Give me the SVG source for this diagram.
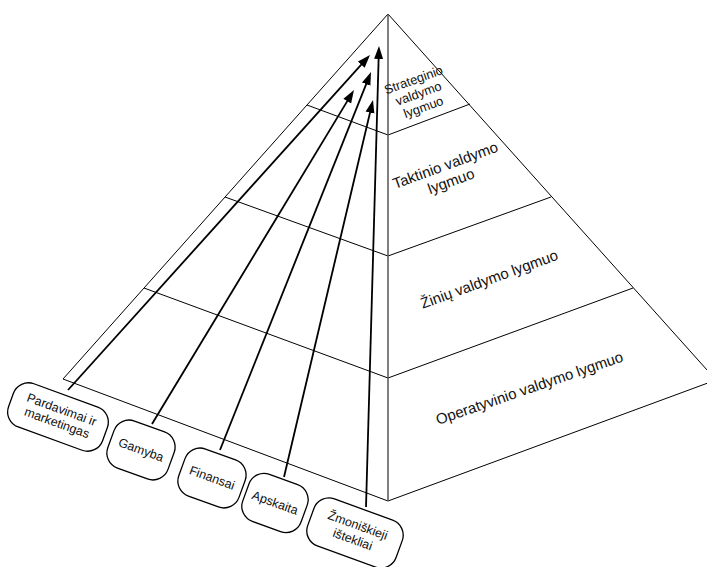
<svg xmlns="http://www.w3.org/2000/svg" width="707" height="567" viewBox="0 0 707 567">
<style>
.edge{fill:none;stroke:#000;stroke-width:1}
.axis{fill:none;stroke:#555;stroke-width:1.5}
.conn{fill:none;stroke:#000;stroke-width:1.8}
.box{fill:#fff;stroke:#000;stroke-width:1.3}
.lbl{font-family:"Liberation Sans",Arial,sans-serif;fill:#111;text-anchor:middle}
.bl{font-size:12.5px}
.pl{font-size:15px}
.sl{font-size:12.8px}
</style>
<defs>
<marker id="ah" markerUnits="userSpaceOnUse" markerWidth="14" markerHeight="10" refX="3" refY="5" orient="auto">
<path d="M0,0.5 L13,5 L0,9.5 Z" fill="#000"/>
</marker>
</defs>
<rect width="707" height="567" fill="#fff"/>
<g id="pyramid">
<path class="edge" d="M388,14 L63,379 L388,501 M388,14 L716,380 L388,501"/>
<path class="edge" d="M307,105 L388,135 L470,104 M225,197 L388,256 L551,197 M144,288 L388,378 L633,288"/>
<path class="axis" d="M388,14 L388,501"/>
</g>
<g id="level-strateginio">
<text class="lbl sl" transform="translate(415,84) rotate(-20)"><tspan x="0" y="0">Strateginio</tspan><tspan x="0" y="14.5">valdymo</tspan><tspan x="0" y="29">lygmuo</tspan></text>
</g>
<g id="level-taktinio">
<text class="lbl pl" transform="translate(447,170) rotate(-20)"><tspan x="0" y="0">Taktinio valdymo</tspan><tspan x="0" y="17">lygmuo</tspan></text>
</g>
<g id="level-ziniu">
<text class="lbl pl" transform="translate(491,284) rotate(-20)">Žinių valdymo lygmuo</text>
</g>
<g id="level-operatyvinio">
<text class="lbl pl" transform="translate(531,393) rotate(-19)">Operatyvinio valdymo lygmuo</text>
</g>
<g id="connectors">
<path class="conn" marker-end="url(#ah)" d="M68,390 L363.3,62.4"/>
<path class="conn" marker-end="url(#ah)" d="M152,424 L348.8,98.6"/>
<path class="conn" marker-end="url(#ah)" d="M220,450 L367.3,81.3"/>
<path class="conn" marker-end="url(#ah)" d="M284,477 L370.7,109.7"/>
<path class="conn" marker-end="url(#ah)" d="M366,507 L378.7,56"/>
</g>
<g id="node-pardavimai" transform="translate(58,417) rotate(20)">
<rect class="box" x="-50" y="-23" width="100" height="46" rx="16"/>
<text class="lbl bl"><tspan x="1" y="-4">Pardavimai ir</tspan><tspan x="1" y="10">marketingas</tspan></text>
</g>
<g id="node-gamyba" transform="translate(141,450) rotate(20)">
<rect class="box" x="-32" y="-25" width="64" height="50" rx="16"/>
<text class="lbl bl" x="0" y="4">Gamyba</text>
</g>
<g id="node-finansai" transform="translate(212,478) rotate(20)">
<rect class="box" x="-32" y="-25" width="64" height="50" rx="16"/>
<text class="lbl bl" x="0" y="4">Finansai</text>
</g>
<g id="node-apskaita" transform="translate(275,503) rotate(20)">
<rect class="box" x="-31" y="-25" width="62" height="50" rx="16"/>
<text class="lbl bl" x="0" y="4">Apskaita</text>
</g>
<g id="node-zmoniskieji" transform="translate(355,533) rotate(20)">
<rect class="box" x="-47" y="-25" width="94" height="50" rx="16"/>
<text class="lbl bl"><tspan x="0" y="-4">Žmoniškieji</tspan><tspan x="0" y="11">ištekliai</tspan></text>
</g>
</svg>
